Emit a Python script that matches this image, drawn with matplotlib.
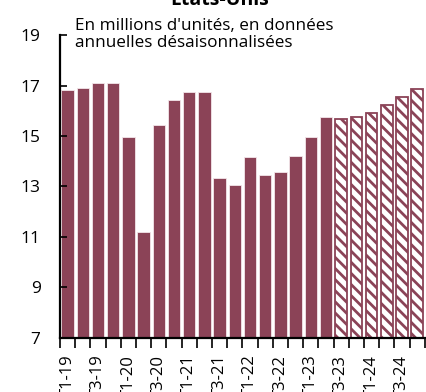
import matplotlib
matplotlib.use("Agg")
import matplotlib.pyplot as plt
import numpy as np

plt.rcParams['font.family'] = ['Open Sans', 'DejaVu Sans']
plt.rcParams['hatch.linewidth'] = 2.0

quarters = ["T1-19", "T2-19", "T3-19", "T4-19", "T1-20", "T2-20", "T3-20", "T4-20",
            "T1-21", "T2-21", "T3-21", "T4-21", "T1-22", "T2-22", "T3-22", "T4-22",
            "T1-23", "T2-23", "T3-23", "T4-23", "T1-24", "T2-24", "T3-24", "T4-24"]
values = [16.83, 16.89, 17.10, 17.08, 14.96, 11.20, 15.42, 16.41,
          16.76, 16.74, 13.35, 13.04, 14.15, 13.44, 13.59, 14.19,
          14.98, 15.77, 15.67, 15.75, 15.91, 16.24, 16.54, 16.87]
n_actual = 18
color = "#8B4357"

fig = plt.figure(figsize=(4.27, 3.92), dpi=100)
ax = fig.add_axes([0.1405, 0.1378, 0.8545, 0.7729])

x = np.arange(len(values))
ax.bar(x[:n_actual], values[:n_actual], width=0.82, color=color,
       edgecolor="#f3e6ea", linewidth=0.6)
ax.bar(x[n_actual:], values[n_actual:], width=0.76, facecolor="white",
       edgecolor=color, hatch="\\\\\\", linewidth=1.3)

ax.set_ylim(7, 19)
ax.set_xlim(-0.5, len(values) - 0.5)
ax.set_yticks([7, 9, 11, 13, 15, 17, 19])
ax.tick_params(axis='y', direction='in', length=5, width=1.2, labelsize=12.5, pad=14)
ax.set_xticks(x[::2])
ax.set_xticklabels(quarters[::2], rotation=90, fontsize=12)
ax.tick_params(axis='x', which='major', length=0, pad=12)
ax.set_xticks(np.arange(-0.5, len(values), 1), minor=True)
ax.tick_params(axis='x', which='minor', direction='out', length=7, width=1.2)

for s in ['top', 'right']:
    ax.spines[s].set_visible(False)
for s in ['left', 'bottom']:
    ax.spines[s].set_linewidth(1.6)
    ax.spines[s].set_color('black')

fig.text(0.515, 0.987, "Etats-Unis", ha='center', va='baseline', fontsize=14, fontweight='bold')
fig.text(0.176, 0.912, "En millions d'unités, en données\nannuelles désaisonnalisées",
         ha='left', va='center', fontsize=12.3, linespacing=1.15)

fig.savefig("out.png", dpi=100)
